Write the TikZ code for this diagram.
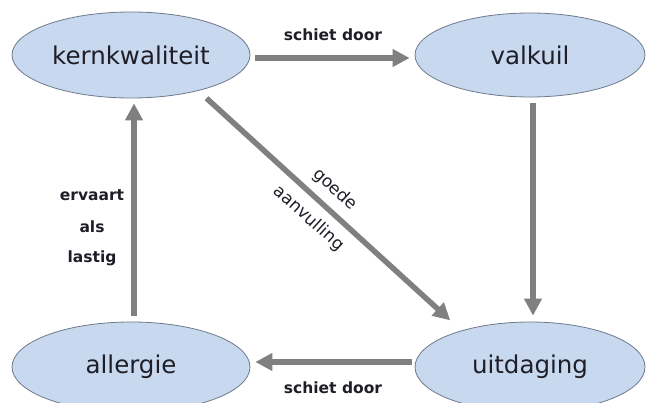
\documentclass[tikz,border=0pt]{standalone}
\usepackage{fontspec}
\setmainfont{DejaVu Sans}
\usetikzlibrary{shapes.geometric,arrows.meta}
\definecolor{ellfill}{RGB}{200,216,238}
\definecolor{elldraw}{RGB}{110,122,140}
\definecolor{arrgray}{RGB}{128,128,128}
\definecolor{txt}{RGB}{30,30,40}
\tikzset{
  ell/.style={ellipse, draw=elldraw, fill=ellfill, line width=0.8pt, inner sep=0pt,
    font=\fontsize{24.5}{28}\selectfont, text=txt},
  conn/.style={draw=arrgray, line width=5.5pt, -{Triangle[length=17pt,width=17pt]}},
  lab/.style={font=\fontsize{15.5}{18}\selectfont\bfseries, text=txt, inner sep=0pt},
  dlab/.style={font=\fontsize{17}{20}\selectfont, text=txt, inner sep=0pt}
}
\begin{document}
\begin{tikzpicture}[x=1pt,y=1pt]
\useasboundingbox (0,0) rectangle (646,-403);
\node[ell, minimum width=238pt, minimum height=86pt] (kern) at (131,-55) {kernkwaliteit};
\node[ell, minimum width=230pt, minimum height=84pt] (valkuil) at (530,-55) {valkuil};
\node[ell, minimum width=238pt, minimum height=90pt] (allergie) at (131,-367) {allergie};
\node[ell, minimum width=230pt, minimum height=90pt] (uitdaging) at (530,-367) {uitdaging};

\draw[conn, shorten <=5pt, shorten >=5pt] ([yshift=-3pt]kern.east) -- ([yshift=-3pt]valkuil.west);
\draw[conn, shorten <=6pt, shorten >=6pt] ([xshift=3pt]valkuil.south) -- ([xshift=3pt]uitdaging.north);
\draw[conn, shorten <=3pt, shorten >=5pt] ([yshift=5pt]uitdaging.west) -- ([yshift=5pt]allergie.east);
\draw[conn, shorten <=6pt, shorten >=5pt] ([xshift=3pt]allergie.north) -- ([xshift=3pt]kern.south);
\draw[conn, shorten <=11pt, shorten >=15pt] (kern.-28) -- (uitdaging.152)
  node[dlab, pos=.47, sloped, above=8pt] (goede) {goede}
  node[dlab, pos=.47, sloped, below=9pt] (aanv) {aanvulling};

\node[lab] (sd1) at (333,-35) {schiet door};
\node[lab] (sd2) at (333,-388) {schiet door};
\node[lab] (erv) at (92,-195) {ervaart};
\node[lab] (als) at (92,-227) {als};
\node[lab] (last) at (92,-258) {lastig};
\end{tikzpicture}
\end{document}
